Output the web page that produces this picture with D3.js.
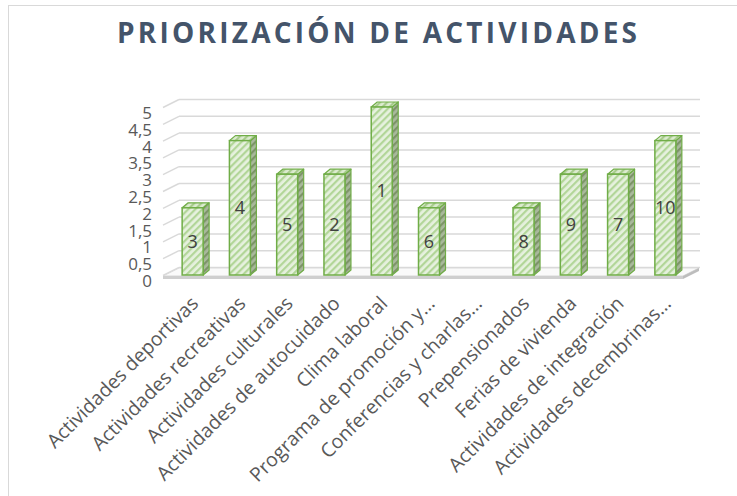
<!DOCTYPE html>
<html>
<head>
<meta charset="utf-8">
<script src="https://cdn.jsdelivr.net/npm/d3@7"></script>
<style>
  body { margin: 0; background: #fff; }
  svg { display: block; font-family: "Open Sans", sans-serif; }
</style>
</head>
<body>
<svg class="chart" width="737" height="496"></svg>
<script>
var categories = ["Actividades deportivas", "Actividades recreativas", "Actividades culturales",
    "Actividades de autocuidado", "Clima laboral", "Programa de promoción y…",
    "Conferencias y charlas…", "Prepensionados", "Ferias de vivienda",
    "Actividades de integración", "Actividades decembrinas…"];
var values = [2, 4, 3, 3, 5, 2, null, 2, 3, 3, 4];
var ranks = ["3", "4", "5", "2", "1", "6", "", "8", "9", "7", "10"];
var yTicks = [0, 0.5, 1, 1.5, 2, 2.5, 3, 3.5, 4, 4.5, 5];
var title = "PRIORIZACIÓN DE ACTIVIDADES";

var svg = d3.select(".chart");

var data = categories.map(function(c, i) {
    return { name: c, value: values[i], rank: ranks[i] };
});

// 3d offsets: wall depth and bar depth
var wall = { dx: 16, dy: -8 },
    bar = { dx: 6, dy: -5 };

var x = d3.scaleBand().domain(categories).range([169, 689])
    .paddingInner(0.556).paddingOuter(0.278);
var y = d3.scaleLinear().domain([0, 5]).range([275, 107]);
var yLab = d3.scaleLinear().domain([0, 5]).range([281, 113]);

var locale = d3.formatLocale({ decimal: ",", thousands: ".", grouping: [3], currency: ["", "€"] });
var fmt = locale.format("~g");

// chart frame
svg.append("rect")
    .attr("x", 8.5).attr("y", 5.5)
    .attr("width", 760).attr("height", 520)
    .attr("fill", "#fff")
    .attr("stroke", "#d9d9d9");

// hatch patterns
var defs = svg.append("defs");
function hatch(id, bg, fg) {
    var p = defs.append("pattern")
        .attr("id", id)
        .attr("patternUnits", "userSpaceOnUse")
        .attr("width", 5).attr("height", 5)
        .attr("patternTransform", "rotate(45)");
    p.append("rect").attr("width", 5).attr("height", 5).attr("fill", bg);
    p.append("rect").attr("width", 2.2).attr("height", 5).attr("fill", fg);
}
hatch("hFront", "#e6f1de", "#b2d698");
hatch("hSide", "#a9b99c", "#7d9468");
hatch("hTop", "#dcebd0", "#a8cc8c");

svg.append("text")
    .attr("x", 117).attr("y", 43)
    .attr("textLength", 520)
    .attr("lengthAdjust", "spacing")
    .attr("font-size", 28)
    .attr("font-weight", "bold")
    .attr("fill", "#44546a")
    .text(title);

// back wall + side wall gridlines
var x0 = 163, x1 = 683;
var grid = svg.append("g").attr("class", "grid");
yTicks.forEach(function(v) {
    var gy = y(v) - 7.5;
    grid.append("line")
        .attr("x1", x0 + wall.dx).attr("y1", gy)
        .attr("x2", x1 + wall.dx + 1).attr("y2", gy)
        .attr("stroke", "#d9d9d9").attr("stroke-width", 1.5);
    grid.append("line")
        .attr("x1", x0).attr("y1", gy - wall.dy)
        .attr("x2", x0 + wall.dx).attr("y2", gy)
        .attr("stroke", "#d9d9d9").attr("stroke-width", 1.5);
});

// floor
var fy = y(0) + 1;
svg.append("polygon")
    .attr("points", [[x0, fy], [x1, fy], [x1 + wall.dx, fy + wall.dy], [x0 + wall.dx, fy + wall.dy]].join(" "))
    .attr("fill", "#fafafa").attr("stroke", "#d9d9d9");
svg.append("polygon")
    .attr("points", [[x0, fy], [x1, fy], [x1, fy + 3], [x0, fy + 3]].join(" "))
    .attr("fill", "#cfcfcf");
svg.append("polygon")
    .attr("points", [[x1, fy], [x1 + wall.dx, fy + wall.dy], [x1 + wall.dx, fy + wall.dy + 3], [x1, fy + 3]].join(" "))
    .attr("fill", "#bdbdbd");

// bars
var w = x.bandwidth();
var bars = svg.append("g").attr("class", "bars")
    .selectAll("g")
    .data(data.filter(function(d) { return d.value != null; }))
    .enter().append("g");

bars.append("polygon")
    .attr("points", function(d) {
        var bx = x(d.name) + w, top = y(d.value), bot = y(0);
        return [[bx, top], [bx + bar.dx, top + bar.dy], [bx + bar.dx, bot + bar.dy], [bx, bot]].join(" ");
    })
    .attr("fill", "url(#hSide)")
    .attr("stroke", "#70ad47").attr("stroke-width", 1.2).attr("stroke-linejoin", "round");

bars.append("polygon")
    .attr("points", function(d) {
        var bx = x(d.name), top = y(d.value);
        return [[bx, top], [bx + w, top], [bx + w + bar.dx, top + bar.dy], [bx + bar.dx, top + bar.dy]].join(" ");
    })
    .attr("fill", "url(#hTop)")
    .attr("stroke", "#70ad47").attr("stroke-width", 1.2).attr("stroke-linejoin", "round");

bars.append("rect")
    .attr("x", function(d) { return x(d.name); })
    .attr("y", function(d) { return y(d.value); })
    .attr("width", w)
    .attr("height", function(d) { return y(0) - y(d.value); })
    .attr("fill", "url(#hFront)")
    .attr("stroke", "#70ad47").attr("stroke-width", 1.5);

bars.append("text")
    .attr("x", function(d) { return x(d.name) + w / 2; })
    .attr("y", function(d) { return (y(d.value) + y(0)) / 2; })
    .attr("dy", "0.35em")
    .attr("text-anchor", "middle")
    .attr("font-size", 18)
    .attr("fill", "#404040")
    .text(function(d) { return d.rank; });

// value axis labels
var yAxis = svg.append("g")
    .attr("class", "axis axis--y")
    .attr("transform", "translate(155,0)")
    .call(d3.axisLeft(yLab).tickValues(yTicks).tickSize(0).tickPadding(3).tickFormat(fmt));
yAxis.select(".domain").remove();
yAxis.selectAll("text")
    .attr("font-size", 17)
    .attr("font-family", "Open Sans, sans-serif")
    .attr("fill", "#595959");

// category labels
var xAxis = svg.append("g")
    .attr("class", "axis axis--x")
    .attr("transform", "translate(0,302)")
    .call(d3.axisBottom(x).tickSize(0));
xAxis.select(".domain").remove();
xAxis.selectAll("text")
    .attr("x", 3).attr("y", 0).attr("dy", "0.35em")
    .attr("transform", "rotate(-45)")
    .attr("text-anchor", "end")
    .attr("font-size", 19.5)
    .attr("font-family", "Open Sans, sans-serif")
    .attr("fill", "#595959");
</script>
</body>
</html>
